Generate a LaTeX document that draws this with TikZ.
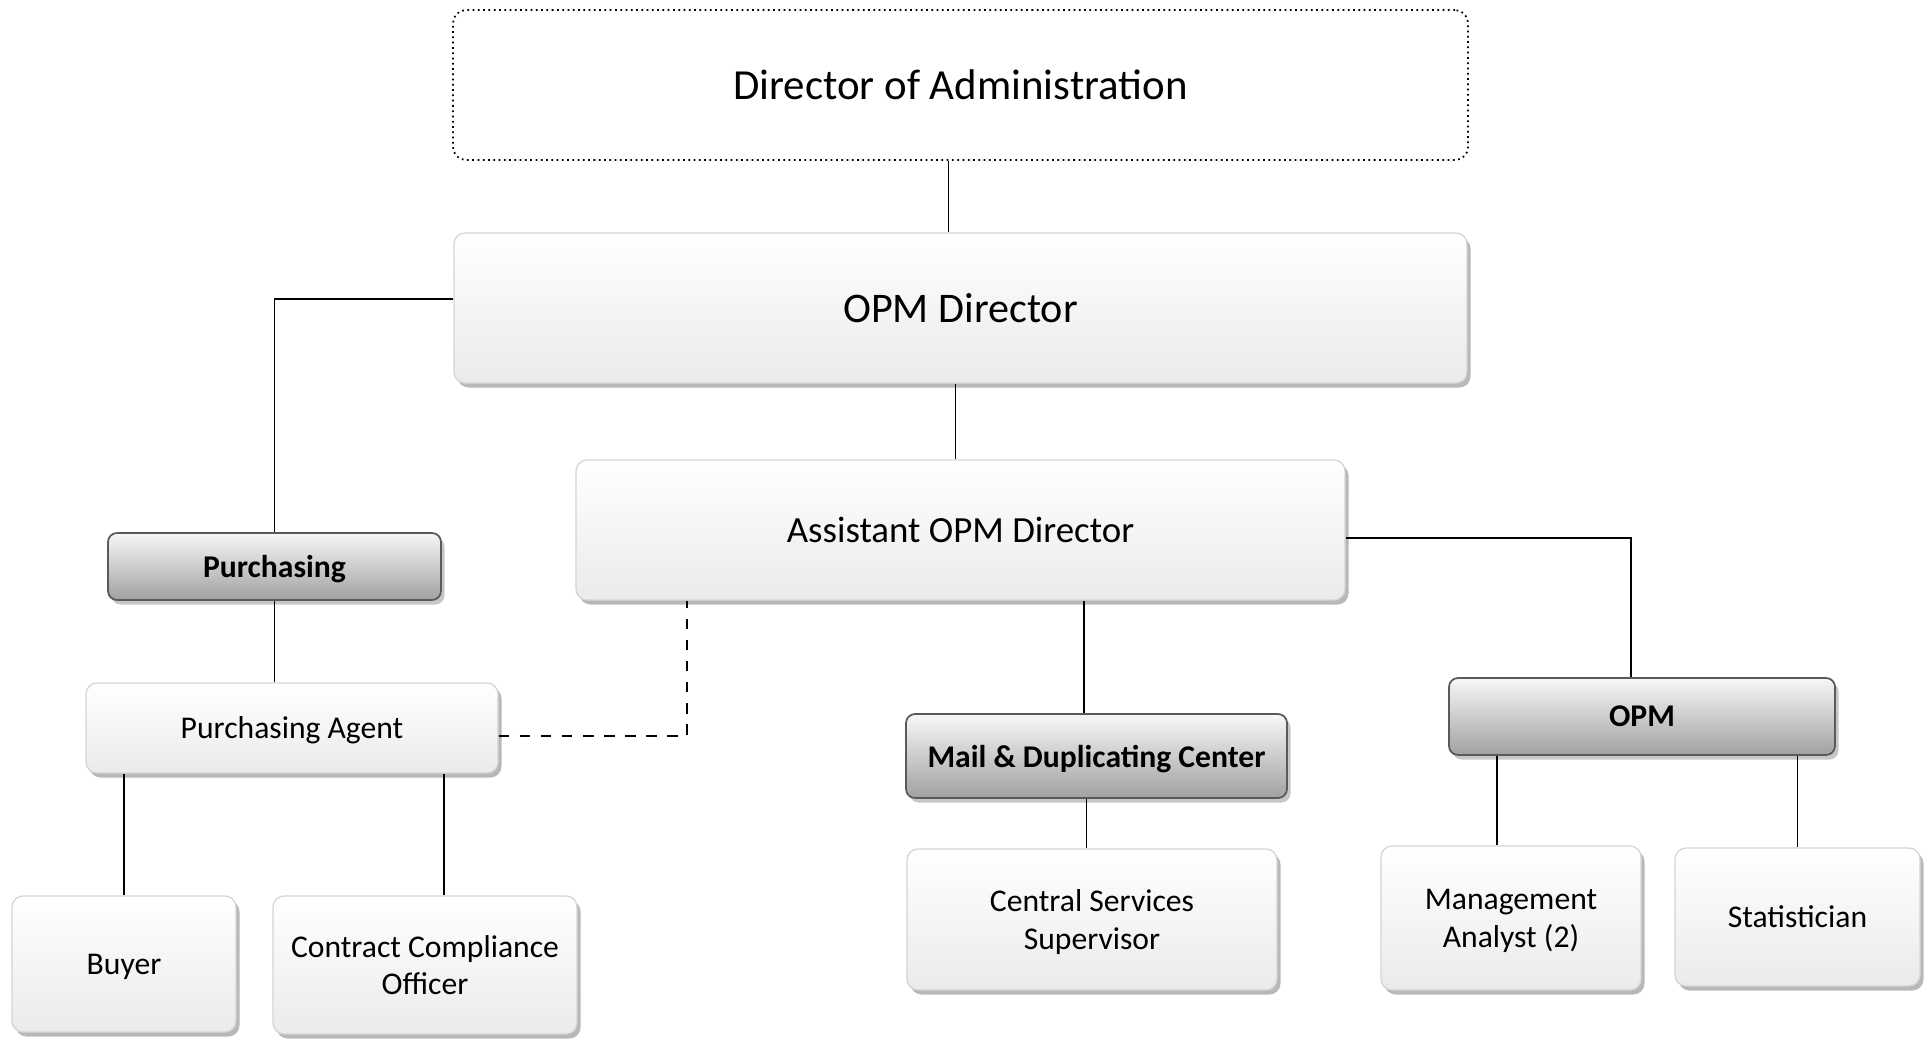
\documentclass[tikz,border=0pt]{standalone}
\usepackage{fontspec}
\setmainfont{Carlito}
\usetikzlibrary{shadows}
\definecolor{boxline}{HTML}{D4D4D4}
\definecolor{headline}{HTML}{5A5A5A}
\tikzset{
  post/.style={draw=boxline, line width=0.35pt, rounded corners=0.11cm, top color=white, bottom color=black!8, align=center, text depth=0pt,
    drop shadow={shadow xshift=0.035cm, shadow yshift=-0.045cm, fill=black!28, opacity=1}},
  unit/.style={draw=headline, line width=0.5pt, rounded corners=0.09cm, top color=black!3, bottom color=black!37, align=center, text depth=0pt, font=\fontsize{9}{10.8}\selectfont\bfseries,
    drop shadow={shadow xshift=0.035cm, shadow yshift=-0.045cm, fill=black!22, opacity=1}},
  link/.style={line width=0.45pt}
}
\begin{document}
\begin{tikzpicture}
\useasboundingbox (0,0) rectangle (19.30,-10.39);
\node[draw, densely dotted, line width=0.5pt, rounded corners=0.13cm, minimum width=10.15cm, minimum height=1.50cm, font=\fontsize{12.2}{14.6}\selectfont] (dir) at (9.605,-0.85) {Director of Administration};
\node[post, minimum width=10.13cm, minimum height=1.50cm, font=\fontsize{12}{14.4}\selectfont] (opmdir) at (9.605,-3.08) {OPM Director};
\node[post, minimum width=7.69cm, minimum height=1.40cm, font=\fontsize{10.5}{12.6}\selectfont] (asst) at (9.605,-5.30) {Assistant OPM Director};
\node[unit, minimum width=3.33cm, minimum height=0.67cm] (purch) at (2.745,-5.665) {Purchasing};
\node[post, minimum width=4.12cm, minimum height=0.90cm, font=\fontsize{9}{10.8}\selectfont] (pa) at (2.92,-7.28) {Purchasing Agent};
\node[post, minimum width=2.24cm, minimum height=1.36cm, font=\fontsize{9}{10.8}\selectfont] (buyer) at (1.24,-9.64) {Buyer};
\node[post, minimum width=3.04cm, minimum height=1.38cm, font=\fontsize{9}{10.8}\selectfont] (cco) at (4.25,-9.65) {Contract Compliance\\Officer};
\node[unit, minimum width=3.81cm, minimum height=0.84cm] (mail) at (10.965,-7.56) {Mail \& Duplicating Center};
\node[post, minimum width=3.70cm, minimum height=1.41cm, font=\fontsize{9}{10.8}\selectfont] (css) at (10.92,-9.195) {Central Services\\Supervisor};
\node[unit, minimum width=3.86cm, minimum height=0.77cm] (opm) at (16.42,-7.165) {OPM};
\node[post, minimum width=2.60cm, minimum height=1.44cm, font=\fontsize{9}{10.8}\selectfont] (ma) at (15.11,-9.18) {Management\\Analyst (2)};
\node[post, minimum width=2.45cm, minimum height=1.38cm, font=\fontsize{9}{10.8}\selectfont] (stat) at (17.975,-9.17) {Statistician};
\draw[link] ([xshift=-0.12cm]dir.south) -- ([xshift=-0.12cm]opmdir.north);
\draw[link] ([xshift=-0.05cm]opmdir.south) -- ([xshift=-0.05cm]asst.north);
\draw[link] ([yshift=0.09cm]opmdir.west) -| (purch.north);
\draw[link] (purch.south) -- (purch.south |- pa.north);
\draw[link] (pa.south -| buyer.north) -- (buyer.north);
\draw[link] ([xshift=0.19cm]cco.north |- pa.south) -- ([xshift=0.19cm]cco.north);
\draw[link, dashed] ([yshift=-0.08cm]pa.east) -| ([xshift=-2.735cm]asst.south);
\draw[link] ([xshift=-0.125cm]mail.north |- asst.south) -- ([xshift=-0.125cm]mail.north);
\draw[link] ([xshift=-0.1cm]mail.south) -- ([xshift=-0.1cm]mail.south |- css.north);
\draw[link] ([yshift=-0.08cm]asst.east) -| ([xshift=-0.11cm]opm.north);
\draw[link] ([xshift=-0.14cm]ma.north |- opm.south) -- ([xshift=-0.14cm]ma.north);
\draw[link] (stat.north |- opm.south) -- (stat.north);
\end{tikzpicture}
\end{document}
